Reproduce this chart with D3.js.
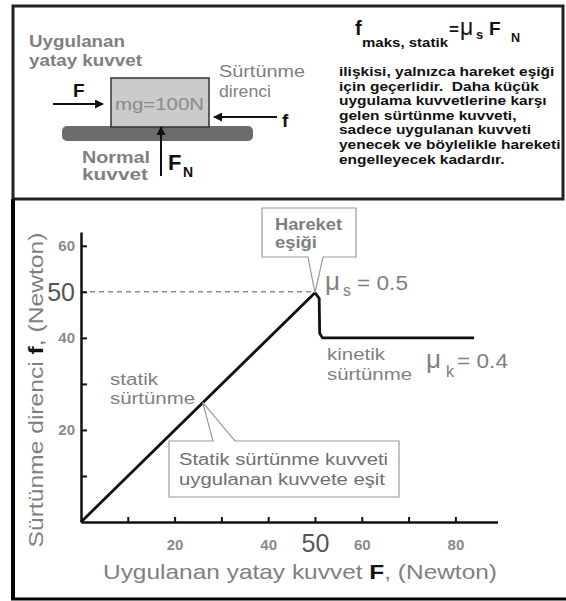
<!DOCTYPE html>
<html>
<head>
<meta charset="utf-8">
<script src="https://cdn.jsdelivr.net/npm/d3@7"></script>
<style>
  body { margin: 0; background: #fff; }
  svg { display: block; font-family: "Liberation Sans", Arial, sans-serif; }
</style>
</head>
<body>
<div id="chart"></div>
<script>
// applied force F (N) and friction f (N) along the curve
var appliedForce = [0, 50, 50.9, 51, 51.6, 84];
var frictionForce = [0, 49.8, 48.6, 41, 40, 40];
var yTicks = [10, 20, 30, 40, 50, 60];
var yLabels = [20, 40, 50, 60];
var xTicks = [10, 20, 30, 40, 50, 60, 70, 80];
var xLabels = [20, 40, 50, 60, 80];
var muStatic = 0.5, muKinetic = 0.4;
var paragraph = [
  "ilişkisi, yalnızca hareket eşiği",
  "için geçerlidir.  Daha küçük",
  "uygulama kuvvetlerine karşı",
  "gelen sürtünme kuvveti,",
  "sadece uygulanan kuvveti",
  "yenecek ve böylelikle hareketi",
  "engelleyecek kadardır."
];

var width = 566, height = 601;
var gray = '#7f7f7f';

var svg = d3.select('#chart').append('svg')
    .attr('width', width)
    .attr('height', height);

var defs = svg.append('defs');
defs.append('marker')
    .attr('id', 'arrow')
    .attr('markerUnits', 'userSpaceOnUse')
    .attr('markerWidth', 9).attr('markerHeight', 9)
    .attr('refX', 8).attr('refY', 4.5)
    .attr('orient', 'auto')
  .append('path')
    .attr('d', 'M0,0 L9,4.5 L0,9 Z')
    .attr('fill', '#111');

// frames
svg.append('rect').attr('x', 13).attr('y', 6).attr('width', 550).attr('height', 193)
    .attr('fill', 'none').attr('stroke', '#222').attr('stroke-width', 3);
svg.append('line').attr('x1', 13).attr('x2', 13).attr('y1', 199).attr('y2', 599)
    .attr('stroke', '#000').attr('stroke-width', 4);
svg.append('line').attr('x1', 11).attr('x2', 566).attr('y1', 599).attr('y2', 599)
    .attr('stroke', '#000').attr('stroke-width', 3);

// text helper, len stretches the text to the reference width
function label(g, x, y, txt, size, fill, weight, anchor, len) {
    var t = g.append('text')
        .attr('x', x).attr('y', y)
        .attr('font-size', size)
        .attr('fill', fill)
        .attr('font-weight', weight || 'normal')
        .attr('text-anchor', anchor || 'start')
        .style('white-space', 'pre')
        .text(txt);
    if (len) t.attr('textLength', len).attr('lengthAdjust', 'spacingAndGlyphs');
    return t;
}

// ---------- top panel: block diagram ----------
var top_g = svg.append('g');

label(top_g, 29, 47, 'Uygulanan', 16, gray, 'bold', 'start', 96);
label(top_g, 29, 66, 'yatay kuvvet', 16, gray, 'bold', 'start', 113);

// ground
top_g.append('rect')
    .attr('x', 62).attr('y', 126)
    .attr('width', 191).attr('height', 15)
    .attr('rx', 5)
    .attr('fill', '#6c6c6c');

// block
top_g.append('rect')
    .attr('x', 111).attr('y', 78)
    .attr('width', 98).attr('height', 49)
    .attr('fill', '#cbcbcb')
    .attr('stroke', '#333')
    .attr('stroke-width', 1.5);
label(top_g, 115, 110, 'mg=100N', 17, '#8a8a8a', 'normal', 'start', 89);

// applied force arrow
top_g.append('line').attr('x1', 53).attr('y1', 104).attr('x2', 103).attr('y2', 104)
    .attr('stroke', '#111').attr('stroke-width', 2).attr('marker-end', 'url(#arrow)');
label(top_g, 73, 97, 'F', 19, '#111', 'bold');

// friction arrow
top_g.append('line').attr('x1', 277).attr('y1', 117).attr('x2', 214).attr('y2', 117)
    .attr('stroke', '#111').attr('stroke-width', 2).attr('marker-end', 'url(#arrow)');
label(top_g, 282, 127, 'f', 19, '#111', 'bold');
label(top_g, 219, 77, 'Sürtünme', 16, gray, 'normal', 'start', 86);
label(top_g, 219, 97, 'direnci', 16, gray, 'normal', 'start', 52);

// normal force arrow
top_g.append('line').attr('x1', 161).attr('y1', 176).attr('x2', 161).attr('y2', 127)
    .attr('stroke', '#111').attr('stroke-width', 2).attr('marker-end', 'url(#arrow)');
label(top_g, 168, 170, 'F', 22, '#111', 'bold');
label(top_g, 183, 177, 'N', 14, '#111', 'bold');
label(top_g, 82, 163, 'Normal', 16, gray, 'bold', 'start', 68);
label(top_g, 82, 180, 'kuvvet', 16, gray, 'bold', 'start', 66);

// equation
label(top_g, 355, 35, 'f', 20, '#111', 'bold');
label(top_g, 362, 47, 'maks, statik', 12.5, '#111', 'bold', 'start', 86);
label(top_g, 449, 35, '=', 17, '#111', 'bold');
label(top_g, 460, 35, 'μ', 23, '#111', 'normal');
label(top_g, 476, 39, 's', 13, '#111', 'bold');
label(top_g, 489, 35, 'F', 19, '#111', 'bold');
label(top_g, 511, 42, 'N', 12.5, '#111', 'bold');

top_g.selectAll('text.para')
    .data(paragraph)
    .join('text')
    .attr('class', 'para')
    .attr('x', 339)
    .attr('y', function(d, i) { return 76 + i * 14.6; })
    .attr('font-size', 12.5)
    .attr('font-weight', 'bold')
    .attr('fill', '#111')
    .style('white-space', 'pre')
    .text(function(d) { return d; })
    .each(function() {
        // reference type is set wider than the installed font
        var w = this.getComputedTextLength();
        d3.select(this).attr('textLength', w * 1.24).attr('lengthAdjust', 'spacingAndGlyphs');
    });

// ---------- bottom panel: friction graph ----------
var plot_g = svg.append('g');

var xScale = d3.scaleLinear().domain([0, 89]).range([81, 497.5]);
var yScale = d3.scaleLinear().domain([0, 63]).range([522, 232]);

// dashed line at mu_s * F_N
plot_g.append('line')
    .attr('x1', xScale(0)).attr('x2', xScale(50))
    .attr('y1', yScale(50)).attr('y2', yScale(50))
    .attr('stroke', '#555')
    .attr('stroke-width', 1)
    .attr('stroke-dasharray', '5,4');

var yAxis = d3.axisLeft(yScale)
    .tickValues(yTicks)
    .tickSizeInner(-6)
    .tickSizeOuter(0)
    .tickPadding(6)
    .tickFormat(function(d) { return yLabels.indexOf(d) >= 0 ? d : ''; });

var xAxis = d3.axisBottom(xScale)
    .tickValues(xTicks)
    .tickSizeInner(-5)
    .tickSizeOuter(0)
    .tickPadding(17)
    .tickFormat(function(d) { return xLabels.indexOf(d) >= 0 ? d : ''; });

var yG = plot_g.append('g')
    .attr('transform', 'translate(' + xScale(0) + ',0)')
    .call(yAxis);
var xG = plot_g.append('g')
    .attr('transform', 'translate(0,' + yScale(0) + ')')
    .call(xAxis);

[yG, xG].forEach(function(g) {
    g.select('.domain').attr('stroke', '#111').attr('stroke-width', 2.5);
    g.selectAll('.tick line').attr('stroke', '#111').attr('stroke-width', 2);
    g.selectAll('.tick text')
        .attr('font-family', '"Liberation Sans", Arial, sans-serif')
        .attr('font-size', 15)
        .attr('font-weight', 'bold')
        .attr('fill', '#8a8a8a');
    g.selectAll('.tick text')
        .filter(function(d) { return d === 50; })
        .attr('font-size', 25)
        .attr('font-weight', 'normal')
        .attr('fill', '#555');
});
yG.selectAll('.tick text').filter(function(d) { return d === 50; }).attr('dy', '0.36em');
xG.selectAll('.tick text').filter(function(d) { return d === 50; }).attr('y', 12);

// friction curve
var line = d3.line()
    .x(function(d) { return xScale(d[0]); })
    .y(function(d) { return yScale(d[1]); });

plot_g.append('path')
    .datum(d3.zip(appliedForce, frictionForce))
    .attr('d', line)
    .attr('fill', 'none')
    .attr('stroke', '#111')
    .attr('stroke-width', 2.8)
    .attr('stroke-linejoin', 'round');

// axis titles
var yTitle = plot_g.append('text')
    .attr('transform', 'translate(43,390) rotate(-90)')
    .attr('text-anchor', 'middle')
    .attr('font-size', 21)
    .attr('fill', gray)
    .attr('textLength', 315)
    .attr('lengthAdjust', 'spacingAndGlyphs');
yTitle.append('tspan').text('Sürtünme direnci ');
yTitle.append('tspan').attr('font-weight', 'bold').attr('fill', '#111').text('f');
yTitle.append('tspan').text(', (Newton)');

var xTitle = plot_g.append('text')
    .attr('x', 300).attr('y', 579)
    .attr('text-anchor', 'middle')
    .attr('font-size', 21)
    .attr('fill', gray)
    .attr('textLength', 394)
    .attr('lengthAdjust', 'spacingAndGlyphs');
xTitle.append('tspan').text('Uygulanan yatay kuvvet ');
xTitle.append('tspan').attr('font-weight', 'bold').attr('fill', '#111').text('F');
xTitle.append('tspan').text(', (Newton)');

// region labels
label(plot_g, 110, 385, 'statik', 16, gray, 'normal', 'start', 48);
label(plot_g, 110, 404, 'sürtünme', 16, gray, 'normal', 'start', 85);
label(plot_g, 327, 360, 'kinetik', 16, gray, 'normal', 'start', 58);
label(plot_g, 327, 380, 'sürtünme', 16, gray, 'normal', 'start', 85);

// coefficient labels
label(plot_g, 325, 290, 'μ', 26, gray);
label(plot_g, 343, 296, 's', 16, gray);
label(plot_g, 357, 290, '= ' + muStatic, 20, gray, 'normal', 'start', 51);
label(plot_g, 426, 368, 'μ', 26, gray);
label(plot_g, 446, 377, 'k', 16, gray);
label(plot_g, 457, 368, '= ' + muKinetic, 20, gray, 'normal', 'start', 51);

// callout: "Hareket eşiği" pointing at the peak
var peak = [xScale(appliedForce[1]), yScale(frictionForce[1])];
plot_g.append('path')
    .attr('d', 'M308,257 L262,257 L262,208 L356,208 L356,257 L323,257 L' + peak[0] + ',' + peak[1] + ' Z')
    .attr('fill', '#fff')
    .attr('stroke', '#999')
    .attr('stroke-width', 1.2);
label(plot_g, 275, 230, 'Hareket', 16, gray, 'bold', 'start', 67);
label(plot_g, 275, 248, 'eşiği', 16, gray, 'bold', 'start', 42);

// callout: static friction equals applied force
var onLine = [xScale(26), yScale(26)];
plot_g.append('path')
    .attr('d', 'M213,441 L169,441 L169,497 L399,497 L399,441 L235,441 L' + onLine[0] + ',' + onLine[1] + ' Z')
    .attr('fill', '#fff')
    .attr('stroke', '#999')
    .attr('stroke-width', 1.2);
label(plot_g, 179, 465, 'Statik sürtünme kuvveti', 16, '#6f6f6f', 'normal', 'start', 209);
label(plot_g, 179, 485, 'uygulanan kuvvete eşit', 16, '#6f6f6f', 'normal', 'start', 206);
</script>
</body>
</html>
